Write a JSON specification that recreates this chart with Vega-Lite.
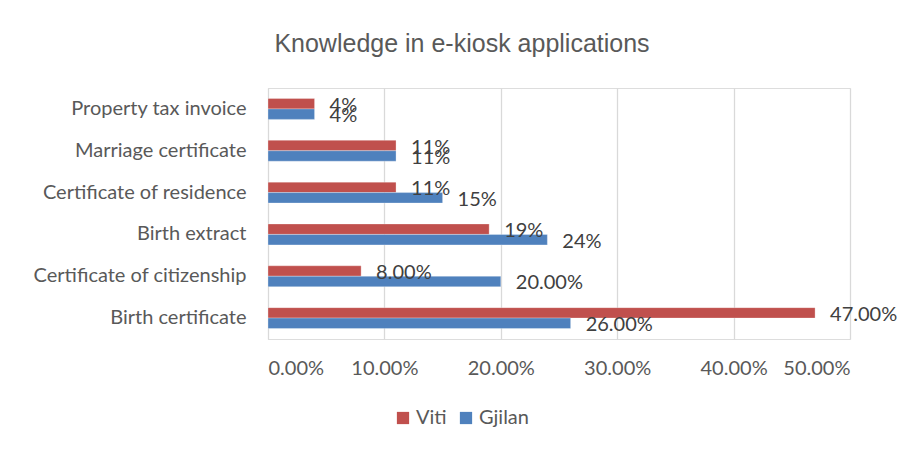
{
  "$schema": "https://vega.github.io/schema/vega-lite/v6.json",
  "width": 582,
  "height": 251,
  "autosize": {"type": "none"},
  "padding": {"left": 268, "top": 88, "right": 49, "bottom": 110},
  "background": "white",
  "title": {
    "text": "Knowledge in e-kiosk applications",
    "font": "Liberation Sans",
    "fontSize": 25,
    "fontWeight": "normal",
    "color": "#595959",
    "anchor": "middle",
    "dx": -97,
    "offset": 31
  },
  "data": {
    "values": [
      {"category": "Property tax invoice", "series": "Viti", "value": 0.04, "label": "4%"},
      {"category": "Property tax invoice", "series": "Gjilan", "value": 0.04, "label": "4%"},
      {"category": "Marriage certificate", "series": "Viti", "value": 0.11, "label": "11%"},
      {"category": "Marriage certificate", "series": "Gjilan", "value": 0.11, "label": "11%"},
      {"category": "Certificate of residence", "series": "Viti", "value": 0.11, "label": "11%"},
      {"category": "Certificate of residence", "series": "Gjilan", "value": 0.15, "label": "15%"},
      {"category": "Birth extract", "series": "Viti", "value": 0.19, "label": "19%"},
      {"category": "Birth extract", "series": "Gjilan", "value": 0.24, "label": "24%"},
      {"category": "Certificate of citizenship", "series": "Viti", "value": 0.08, "label": "8.00%"},
      {"category": "Certificate of citizenship", "series": "Gjilan", "value": 0.20, "label": "20.00%"},
      {"category": "Birth certificate", "series": "Viti", "value": 0.47, "label": "47.00%"},
      {"category": "Birth certificate", "series": "Gjilan", "value": 0.26, "label": "26.00%"}
    ]
  },
  "encoding": {
    "y": {
      "field": "category",
      "type": "nominal",
      "sort": ["Property tax invoice", "Marriage certificate", "Certificate of residence", "Birth extract", "Certificate of citizenship", "Birth certificate"],
      "scale": {"paddingInner": 0.5, "paddingOuter": 0.25},
      "axis": {
        "title": null,
        "domain": true,
        "domainColor": "#d9d9d9",
        "ticks": false,
        "labelPadding": 22,
        "labelFont": "Lato",
        "labelFontSize": 20,
        "labelColor": "#595959",
        "labelLimit": 400
      }
    },
    "x": {
      "field": "value",
      "type": "quantitative",
      "scale": {"domain": [0, 0.5]},
      "axis": {
        "title": null,
        "format": ".2%",
        "values": [0, 0.1, 0.2, 0.3, 0.4, 0.5],
        "domain": false,
        "ticks": false,
        "labelPadding": 19,
        "labelFont": "Lato",
        "labelFontSize": 20,
        "labelColor": "#595959",
        "grid": true,
        "gridColor": "#d9d9d9",
        "gridWidth": 1.3
      }
    },
    "yOffset": {"field": "series", "type": "nominal", "sort": ["Viti", "Gjilan"]}
  },
  "layer": [
    {
      "mark": {"type": "bar", "stroke": "white", "strokeWidth": 0.3},
      "encoding": {
        "color": {
          "field": "series",
          "type": "nominal",
          "sort": ["Viti", "Gjilan"],
          "scale": {"domain": ["Viti", "Gjilan"], "range": ["#C0504D", "#4F81BD"]},
          "legend": {
            "title": null,
            "orient": "none",
            "direction": "horizontal",
            "legendX": 125,
            "legendY": 320,
            "symbolType": "square",
            "symbolSize": 150,
            "symbolStrokeWidth": 0,
            "symbolOpacity": 1,
            "labelFont": "Lato",
            "labelFontSize": 20,
            "labelColor": "#595959",
            "columnPadding": 9,
            "labelOffset": 3
          }
        }
      }
    },
    {
      "mark": {"type": "text", "align": "left", "baseline": "middle", "dx": 15, "dy": 2, "font": "Lato", "fontSize": 20, "color": "#404040"},
      "encoding": {"text": {"field": "label"}}
    }
  ]
}
